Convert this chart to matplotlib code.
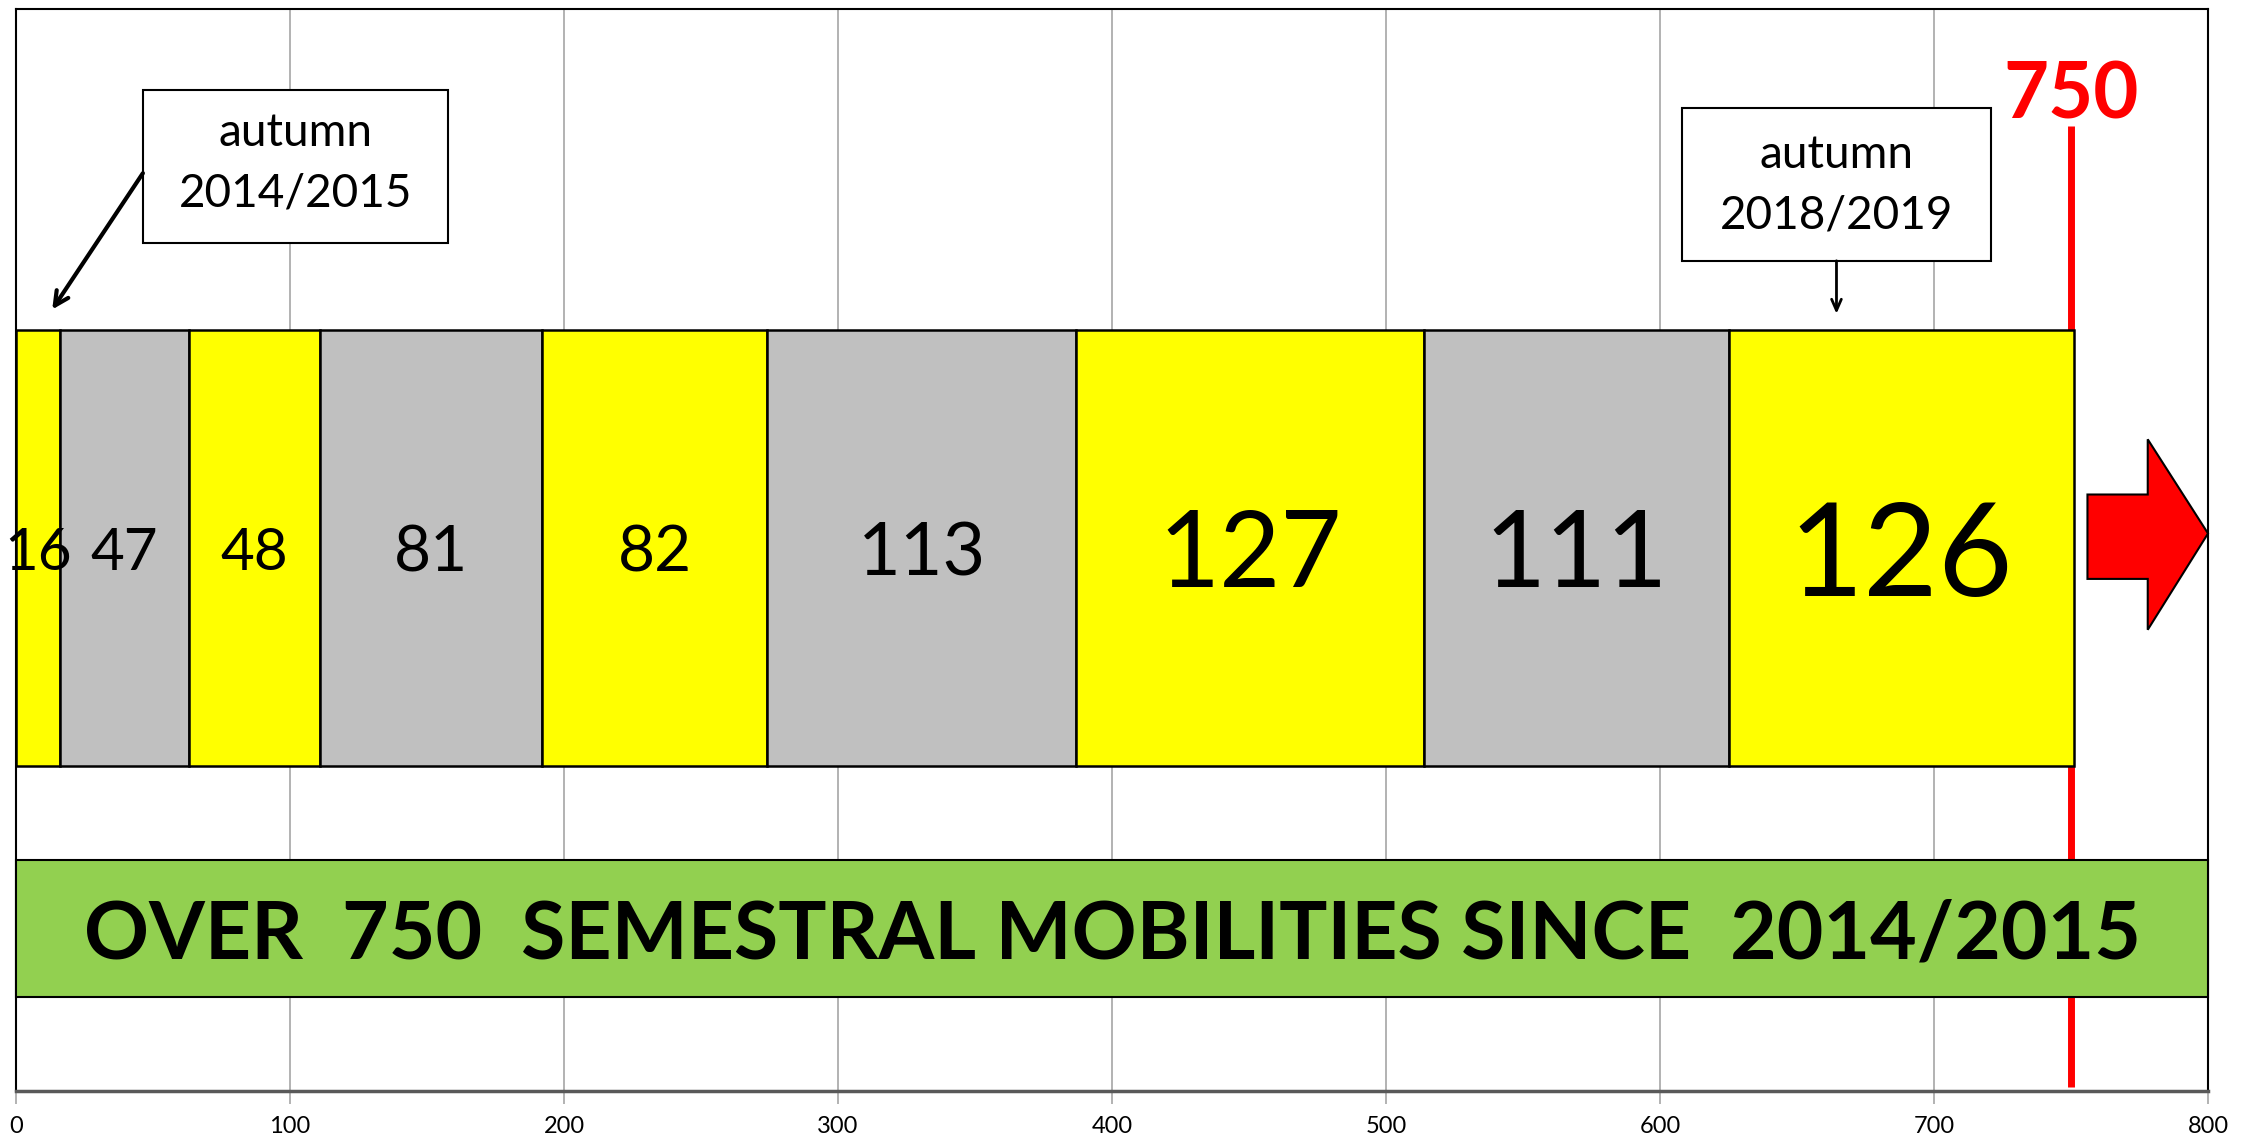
import matplotlib
matplotlib.use("Agg")
import matplotlib.pyplot as plt
from matplotlib.patches import Rectangle, Polygon

# semestral mobilities per semester (from autumn 2014/2015)
mobilities = [16, 47, 48, 81, 82, 113, 127, 111, 126]
milestone = 750
xticks = [0, 100, 200, 300, 400, 500, 600, 700, 800]
banner_text = "OVER  750  SEMESTRAL MOBILITIES SINCE  2014/2015"
first_note = "autumn\n2014/2015"
last_note = "autumn\n2018/2019"

# styles
seg_colors = ["#FFFF00", "#C0C0C0"]
label_sizes = [42, 42, 42, 46, 46, 53, 76, 76, 93]

plt.rcParams['font.family'] = ['Lato', 'DejaVu Sans']

fig = plt.figure(figsize=(22.6, 11.44), dpi=100)
ax = fig.add_axes([0.0071, 0.0466, 0.9699, 0.9458])
ax.set_xlim(0, 800)
ax.set_ylim(0, 1)

# grid
ax.set_xticks(xticks)
ax.xaxis.grid(True, color="#A6A6A6", linewidth=1.2, zorder=0)
ax.set_axisbelow(True)
ax.set_yticks([])
ax.tick_params(axis='x', length=9, width=1.2, color="#A6A6A6", pad=9, labelsize=17)

for s in ['top', 'right', 'left']:
    ax.spines[s].set_color("black")
    ax.spines[s].set_linewidth(1.5)
ax.spines['bottom'].set_color("#595959")
ax.spines['bottom'].set_linewidth(2.5)

# red 750 line (behind the bars and banner)
ax.plot([milestone, milestone], [0.003, 0.892], color="red", linewidth=5, zorder=1,
        solid_capstyle='butt')
ax.text(milestone, 0.925, str(milestone), color="red", fontsize=56, fontweight="bold",
        ha="center", va="center_baseline", zorder=5)

# stacked segments
bar_y, bar_h = 0.30, 0.403
left = 0
for i, v in enumerate(mobilities):
    ax.barh(bar_y, v, height=bar_h, left=left, align="edge",
            color=seg_colors[i % 2], edgecolor="black", linewidth=1.8, zorder=3)
    ax.text(left + v / 2, bar_y + bar_h / 2, str(v), fontsize=label_sizes[i],
            ha="center", va="center_baseline", zorder=4)
    left += v

# green banner
ax.add_patch(Rectangle((0, 0.0866), 800, 0.1264, facecolor="#92D050",
                       edgecolor="black", linewidth=1.5, zorder=4, clip_on=False))
ax.text(400, 0.0866 + 0.1264 / 2, banner_text, fontsize=58, fontweight="bold",
        ha="center", va="center_baseline", zorder=5)

# red arrow on the right
arrow_pts = [(756, 0.473), (778, 0.473), (778, 0.426), (800, 0.515),
             (778, 0.602), (778, 0.551), (756, 0.551)]
ax.add_patch(Polygon(arrow_pts, closed=True, facecolor="red", edgecolor="black",
                     linewidth=1.5, zorder=5, clip_on=False))

# note boxes
ax.add_patch(Rectangle((46.3, 0.783), 111.5, 0.142, facecolor="white",
                       edgecolor="black", linewidth=1.5, zorder=5))
ax.text(102, 0.857, first_note, fontsize=33, ha="center", va="center",
        linespacing=1.55, zorder=6)
ax.annotate("", xy=(13.2, 0.722), xytext=(46.3, 0.848),
            arrowprops=dict(arrowstyle="->,head_length=1.0,head_width=0.5",
                            color="black", linewidth=3, shrinkA=0, shrinkB=0),
            zorder=6)

ax.add_patch(Rectangle((608.1, 0.767), 112.6, 0.141, facecolor="white",
                       edgecolor="black", linewidth=1.5, zorder=5))
ax.text(664.4, 0.837, last_note, fontsize=33, ha="center", va="center",
        linespacing=1.55, zorder=6)
ax.annotate("", xy=(664.4, 0.718), xytext=(664.4, 0.767),
            arrowprops=dict(arrowstyle="->,head_length=0.8,head_width=0.35",
                            color="black", linewidth=2, shrinkA=0, shrinkB=0),
            zorder=6)

fig.savefig("out.png", dpi=100, facecolor="white")
